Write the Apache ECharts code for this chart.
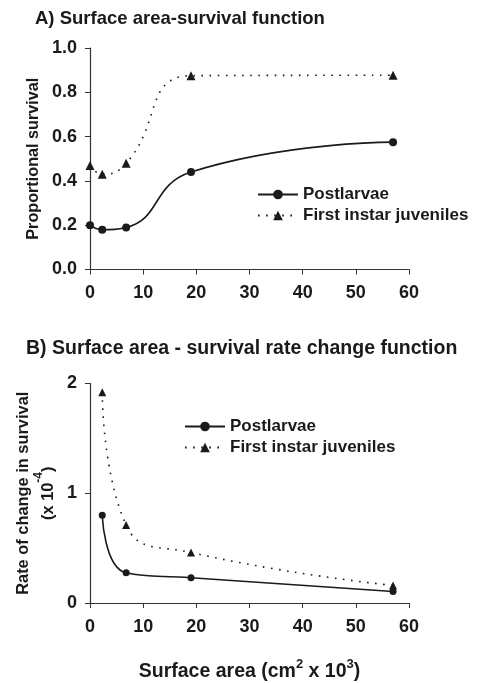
<!DOCTYPE html>
<html><head><meta charset="utf-8">
<script src="https://cdn.jsdelivr.net/npm/echarts@6/dist/echarts.min.js"></script>
<style>html,body{margin:0;padding:0;background:#fff}#c{width:478px;height:683px}</style>
</head><body><div id="c"></div>
<script>
const titleA = 'A) Surface area-survival function';
const titleB = 'B) Surface area - survival rate change function';
const seriesNames = ['Postlarvae', 'First instar juveniles'];
const xTicks = [0, 10, 20, 30, 40, 50, 60];
const xA = [0, 2.3, 6.8, 19, 57];
const postA = [0.20, 0.18, 0.19, 0.44, 0.575];
const juvA = [0.47, 0.43, 0.48, 0.875, 0.877];
const xB = [2.3, 6.8, 19, 57];
const postB = [0.80, 0.275, 0.23, 0.105];
const juvB = [1.92, 0.71, 0.46, 0.16];

const pair = (xs, ys) => xs.map((x, i) => [x, ys[i]]);
const FONT = 'Liberation Sans, Arial, sans-serif';
const INK = '#1a1a1a';
const axisCommon = {
  axisLine: {lineStyle: {color: '#333', width: 1.2}},
  axisTick: {show: true, inside: false, length: 5, lineStyle: {color: '#333'}},
  splitLine: {show: false},
  axisLabel: {color: INK, fontFamily: FONT, fontWeight: 'bold', fontSize: 18}
};
const xAxisBase = (gi) => Object.assign({}, axisCommon, {
  type: 'value', gridIndex: gi, min: xTicks[0], max: xTicks[xTicks.length - 1], interval: 10,
  axisLabel: Object.assign({}, axisCommon.axisLabel, {margin: 15})
});
const solid = {color: INK, width: 1.6, type: 'solid'};
const dotted = {color: INK, width: 1.6, type: [1.6, 6.5]};
const legendText = {fontFamily: FONT, fontWeight: 'bold', fontSize: 17, color: INK};

const chart = echarts.init(document.getElementById('c'), null, {renderer: 'canvas'});
chart.setOption({
  backgroundColor: '#fff',
  animation: false,
  title: [
    {text: titleA, left: 30, top: 4, textStyle: {fontFamily: FONT, fontWeight: 'bold', fontSize: 18.5, color: INK}},
    {text: titleB, left: 21, top: 334, textStyle: {fontFamily: FONT, fontWeight: 'bold', fontSize: 19.5, color: INK}}
  ],
  legend: [
    {left: 252, top: 181, orient: 'vertical', itemGap: 4, itemWidth: 40, itemHeight: 12,
     data: seriesNames, textStyle: legendText},
    {left: 179, top: 413, orient: 'vertical', itemGap: 4, itemWidth: 40, itemHeight: 12,
     data: seriesNames, textStyle: legendText}
  ],
  grid: [
    {left: 90, right: 69, top: 48, height: 221.5},
    {left: 90, right: 69, top: 383.5, height: 223}
  ],
  xAxis: [
    xAxisBase(0),
    Object.assign(xAxisBase(1), {
      name: '{n|Surface area (cm}{s|2}{n| x 10}{s|3}{n|)}', nameLocation: 'middle', nameGap: 55,
      nameTextStyle: {rich: {
        n: {fontFamily: FONT, fontWeight: 'bold', fontSize: 19.5, color: INK, verticalAlign: 'bottom', lineHeight: 24},
        s: {fontFamily: FONT, fontWeight: 'bold', fontSize: 13, color: INK, verticalAlign: 'top', lineHeight: 24}
      }}
    })
  ],
  yAxis: [
    Object.assign({}, axisCommon, {
      type: 'value', gridIndex: 0, min: 0, max: 1, interval: 0.2,
      axisLabel: Object.assign({}, axisCommon.axisLabel, {formatter: v => v.toFixed(1), margin: 13}),
      name: 'Proportional survival', nameLocation: 'middle', nameGap: 48, nameRotate: 90,
      nameTextStyle: {fontFamily: FONT, fontWeight: 'bold', fontSize: 16.2, color: INK}
    }),
    Object.assign({}, axisCommon, {
      type: 'value', gridIndex: 1, min: 0, max: 2, interval: 1,
      axisLabel: Object.assign({}, axisCommon.axisLabel, {margin: 13}),
      name: '{n|Rate of change in survival}\n{n|(x 10}{s|-4}{n|)}', nameLocation: 'middle', nameGap: 29, nameRotate: 90,
      nameTextStyle: {rich: {
        n: {fontFamily: FONT, fontWeight: 'bold', fontSize: 16.4, color: INK, lineHeight: 25, verticalAlign: 'bottom'},
        s: {fontFamily: FONT, fontWeight: 'bold', fontSize: 12, color: INK, lineHeight: 25, verticalAlign: 'top', padding: [2, 0, 0, 0]}
      }}
    })
  ],
  series: [
    {name: seriesNames[0], type: 'line', xAxisIndex: 0, yAxisIndex: 0, data: pair(xA, postA), smooth: 0.5,
     symbol: 'circle', symbolSize: 8, itemStyle: {color: INK}, lineStyle: solid},
    {name: seriesNames[1], type: 'line', xAxisIndex: 0, yAxisIndex: 0, data: pair(xA, juvA), smooth: 0.5,
     symbol: 'triangle', symbolSize: 9, itemStyle: {color: INK}, lineStyle: dotted},
    {name: seriesNames[0], type: 'line', xAxisIndex: 1, yAxisIndex: 1, data: pair(xB, postB), smooth: 0.5,
     symbol: 'circle', symbolSize: 7, itemStyle: {color: INK}, lineStyle: solid},
    {name: seriesNames[1], type: 'line', xAxisIndex: 1, yAxisIndex: 1, data: pair(xB, juvB), smooth: 0.5,
     symbol: 'triangle', symbolSize: 8, itemStyle: {color: INK}, lineStyle: dotted}
  ]
});
</script></body></html>
